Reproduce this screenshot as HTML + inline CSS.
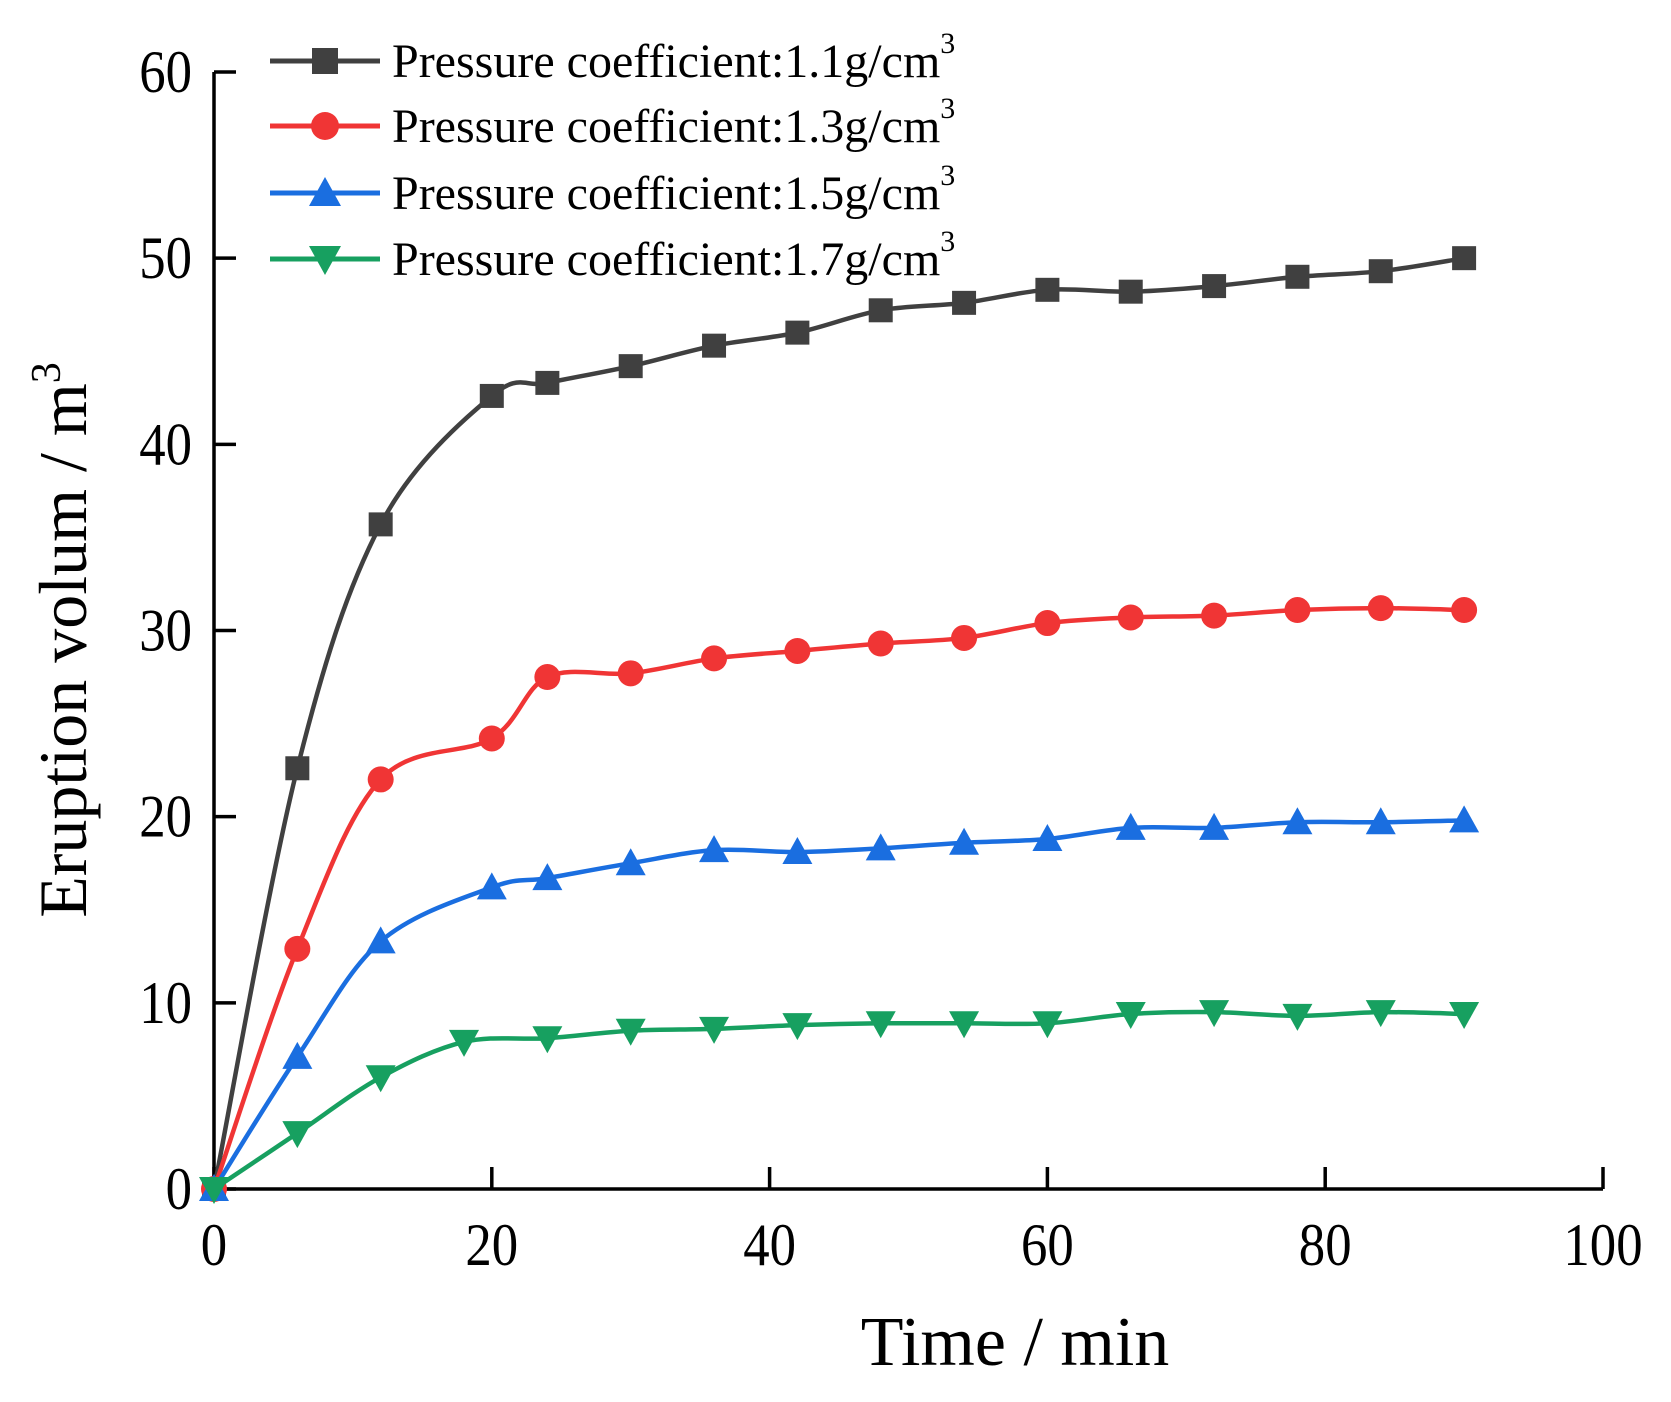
<!DOCTYPE html>
<html><head><meta charset="utf-8"><style>
html,body{margin:0;padding:0;background:#fff;}
svg{display:block;font-family:"Liberation Serif",serif;}
</style></head><body>
<svg id="chart" width="1671" height="1402" viewBox="0 0 1671 1402"></svg>
<script>
const xTicks=[0,20,40,60,80,100];
const yTicks=[0,10,20,30,40,50,60];
const seriesNames=["Pressure coefficient:1.1g/cm","Pressure coefficient:1.3g/cm","Pressure coefficient:1.5g/cm","Pressure coefficient:1.7g/cm"];
const colors=["#404040","#f03535","#1a6ee0","#17a060"];
const markers=["square","circle","triangle","invtriangle"];
const xBlack=[0,6,12,20,24,30,36,42,48,54,60,66,72,78,84,90];
const xRed=[0,6,12,20,24,30,36,42,48,54,60,66,72,78,84,90];
const xBlue=[0,6,12,20,24,30,36,42,48,54,60,66,72,78,84,90];
const xGreen=[0,6,12,18,24,30,36,42,48,54,60,66,72,78,84,90];
const yBlack=[0,22.6,35.7,42.6,43.3,44.2,45.3,46.0,47.2,47.6,48.3,48.2,48.5,49.0,49.3,50.0];
const yRed=[0,12.9,22.0,24.2,27.5,27.7,28.5,28.9,29.3,29.6,30.4,30.7,30.8,31.1,31.2,31.1];
const yBlue=[0,7.1,13.3,16.2,16.7,17.5,18.2,18.1,18.3,18.6,18.8,19.4,19.4,19.7,19.7,19.8];
const yGreen=[0,3.0,6.0,7.9,8.1,8.5,8.6,8.8,8.9,8.9,8.9,9.4,9.5,9.3,9.5,9.4];

const NS="http://www.w3.org/2000/svg";
const svg=document.getElementById('chart');
const X0=214,X1=1603,Y0=1189,Y1=72;
function sx(v){return X0+(v-0)/(100-0)*(X1-X0);}
function sy(v){return Y0-(v-0)/(60-0)*(Y0-Y1);}
function mk(tag,attrs,parent){const e=document.createElementNS(NS,tag);for(const k in attrs)e.setAttribute(k,attrs[k]);(parent||svg).appendChild(e);return e;}

const ax=mk('path',{d:`M${X0},${Y1} L${X0},${Y0} L${X1},${Y0}`,fill:'none',stroke:'#000','stroke-width':3.5});


yTicks.forEach(t=>{
  const l=mk('line',{x1:X0,x2:X0+22,y1:sy(t),y2:sy(t),stroke:'#000','stroke-width':3.5});
  
  
  const tx=mk('text',{x:0,y:0,'text-anchor':'end','font-size':60,transform:`translate(${X0-22},${sy(t)+20}) scale(0.88,1)`});
  tx.textContent=t;
  
  
});
xTicks.forEach(t=>{
  const l=mk('line',{x1:sx(t),x2:sx(t),y1:Y0,y2:Y0-22,stroke:'#000','stroke-width':3.5});
  
  
  const tx=mk('text',{x:0,y:0,'text-anchor':'middle','font-size':60,transform:`translate(${sx(t)},${Y0+76}) scale(0.88,1)`});
  tx.textContent=t;
  
  
});
const xt=mk('text',{x:1015,y:1365,'text-anchor':'middle','font-size':70});
xt.textContent='Time / min';


const yt=mk('text',{x:0,y:0,'text-anchor':'middle','font-size':68,transform:'translate(86,640) rotate(-90)'});
yt.innerHTML='Eruption volum / m<tspan dy="-26" font-size="42">3</tspan>';



function marker(type,x,y,color,s,g){
  let e;
  if(type==='square') e=mk('rect',{x:x-s,y:y-s,width:2*s,height:2*s,fill:color},g);
  else if(type==='circle') e=mk('circle',{cx:x,cy:y,r:s+1,fill:color},g);
  else if(type==='triangle') e=mk('path',{d:`M${x},${y-s-3} L${x+s+3},${y+s} L${x-s-3},${y+s}Z`,fill:color},g);
  else e=mk('path',{d:`M${x},${y+s+3} L${x+s+3},${y-s} L${x-s-3},${y-s}Z`,fill:color},g);
  
  
}
function smooth(pts){
  let d=`M${pts[0][0]},${pts[0][1]}`;
  for(let i=0;i<pts.length-1;i++){
    const p0=pts[Math.max(i-1,0)],p1=pts[i],p2=pts[i+1],p3=pts[Math.min(i+2,pts.length-1)];
    const c1=[p1[0]+(p2[0]-p0[0])/6,p1[1]+(p2[1]-p0[1])/6];
    const c2=[p2[0]-(p3[0]-p1[0])/6,p2[1]-(p3[1]-p1[1])/6];
    d+=` C${c1[0]},${c1[1]} ${c2[0]},${c2[1]} ${p2[0]},${p2[1]}`;
  }
  return d;
}
const xs=[xBlack,xRed,xBlue,xGreen], ys=[yBlack,yRed,yBlue,yGreen];
const snames=['series-1-1','series-1-3','series-1-5','series-1-7'];
for(let s=0;s<4;s++){
  const g=mk('g',{});
  
  
  const pts=xs[s].map((x,i)=>[sx(x),sy(ys[s][i])]);
  const p=mk('path',{d:smooth(pts),fill:'none',stroke:colors[s],'stroke-width':4.5},g);
  
  
  pts.forEach(pt=>marker(markers[s],pt[0],pt[1],colors[s],12,g));
}
const legY=[61,126,193,259];
for(let s=0;s<4;s++){
  const g=mk('g',{});
  
  
  mk('line',{x1:270,x2:380,y1:legY[s],y2:legY[s],stroke:colors[s],'stroke-width':5},g);
  marker(markers[s],325,legY[s],colors[s],13,g);
  const t=mk('text',{x:392,y:legY[s]+16,'font-size':48},g);
  t.innerHTML=seriesNames[s]+'<tspan dy="-24" font-size="30">3</tspan>';
  
  
}
</script>
</body></html>
